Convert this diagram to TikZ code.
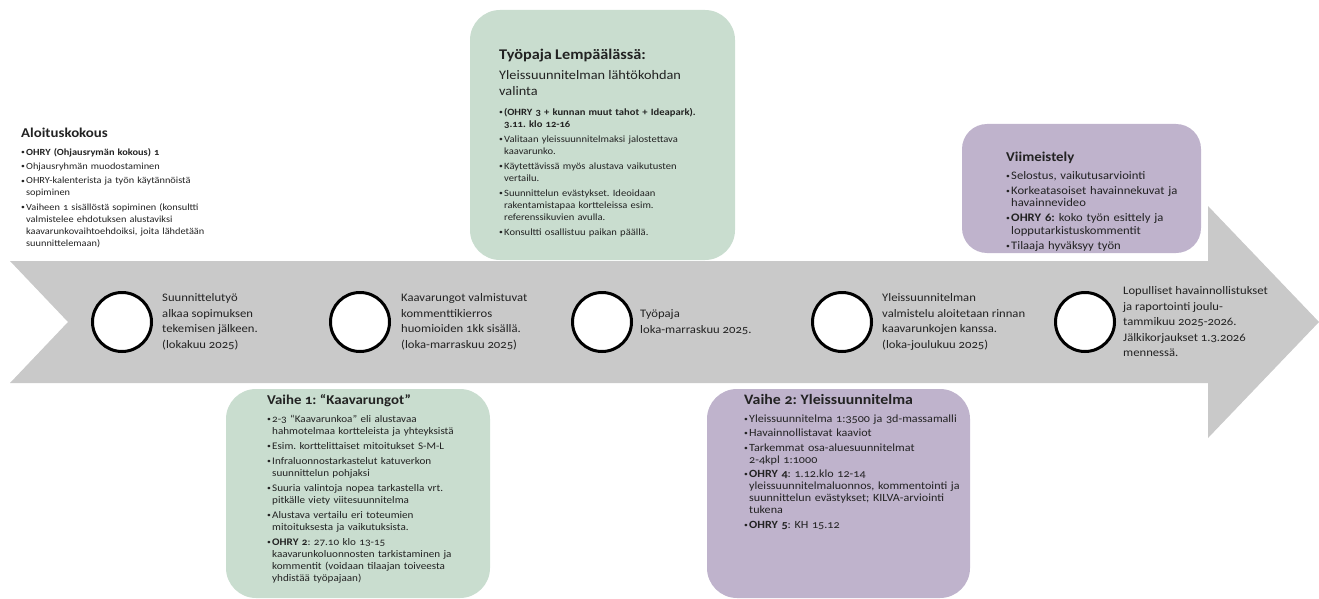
\documentclass[tikz,border=0pt]{standalone}
\usepackage{fontspec}
\setmainfont{Carlito}[FakeStretch=1.1,Numbers=OldStyle]
\usetikzlibrary{positioning}

\definecolor{arrowgray}{HTML}{C9C9C9}
\definecolor{phasegreen}{HTML}{C9DDCF}
\definecolor{phaselilac}{HTML}{BFB3CC}
\definecolor{inkgray}{HTML}{222222}

\frenchspacing
\newlength{\itmgap}
\setlength{\itmgap}{3pt}
\newcommand{\itm}{\par\vspace{\itmgap}\hangindent=5pt\hangafter=1\noindent\makebox[5pt][l]{\raisebox{0.6pt}{\scriptsize\textbullet}}}
\newcommand{\ttl}[2][13.5]{{\fontsize{#1}{14}\selectfont\bfseries #2}\par\vspace{3pt}}

\begin{document}
\begin{tikzpicture}[x=1pt,y=-1pt,
    boxtext/.style={anchor=base west, inner sep=0pt, text width=260pt, align=left,
                    font=\fontsize{10}{12}\selectfont, text=inkgray},
    stone/.style={shape=circle, draw=black, fill=white, line width=3pt,
                  minimum size=59pt, inner sep=0pt},
    stonetext/.style={anchor=west, inner sep=0pt, align=left,
                      font=\fontsize{11.5}{15.5}\selectfont, text=inkgray}]

    \useasboundingbox (0,0) rectangle (1319,599);

    % timeline arrow
    \fill[arrowgray] (10,261) -- (1208,261) -- (1208,206) -- (1319,322)
        -- (1208,438) -- (1208,383) -- (10,383) -- (68,322) -- cycle;

    % phase boxes
    \fill[phasegreen, rounded corners=30pt] (470,10) rectangle (735,260);
    \fill[phaselilac, rounded corners=25pt] (962,124) rectangle (1201,253);
    \fill[phasegreen, rounded corners=30pt] (226,389) rectangle (490,598);
    \fill[phaselilac, rounded corners=30pt] (707,389) rectangle (970,598);

    % milestones
    \node[stone] (M1) at (122,322) {};
    \node[stone] (M2) at (360,322) {};
    \node[stone] (M3) at (602,322) {};
    \node[stone] (M4) at (842,322) {};
    \node[stone] (M5) at (1085,322) {};

    \node[stonetext, right=9pt of M1] (T1) {Suunnittelutyö\\alkaa sopimuksen\\tekemisen jälkeen.\\(lokakuu 2025)};
    \node[stonetext, right=10pt of M2] (T2) {Kaavarungot valmistuvat\\kommenttikierros\\huomioiden 1kk sisällä.\\(loka-marraskuu 2025)};
    \node[stonetext, right=7pt of M3] (T3) {Työpaja\\loka-marraskuu 2025.};
    \node[stonetext, right=9pt of M4] (T4) {Yleissuunnitelman\\valmistelu aloitetaan rinnan\\kaavarunkojen kanssa.\\(loka-joulukuu 2025)};
    \node[stonetext, right=7pt of M5] (T5) {Lopulliset havainnollistukset\\ja raportointi joulu-\\tammikuu 2025-2026.\\Jälkikorjaukset 1.3.2026\\mennessä.};

    % texts above and below
    \node[boxtext, font=\fontsize{9.4}{12}\selectfont] (aloitus) at (21,137.5) {\setlength{\itmgap}{2.5pt}\ttl{Aloituskokous}
        \itm\textbf{OHRY (Ohjausrymän kokous) 1}
        \itm Ohjausryhmän muodostaminen
        \itm OHRY-kalenterista ja työn käytännöistä\newline sopiminen
        \itm Vaiheen 1 sisällöstä sopiminen (konsultti\newline valmistelee ehdotuksen alustaviksi\newline kaavarunkovaihtoehdoiksi, joita lähdetään\newline suunnittelemaan)\par};

    \node[boxtext, font=\fontsize{9.6}{12}\selectfont] (tyopaja) at (499,59.5) {{\fontsize{14.8}{16}\selectfont\bfseries Työpaja Lempäälässä:}\par\vspace{4.4pt}
        {\fontsize{13}{16}\selectfont Yleissuunnitelman lähtökohdan\newline valinta\par}\vspace{4.3pt}
        \itm\textbf{(OHRY 3 + kunnan muut tahot + Ideapark).\newline 3.11. klo 12-16}
        \itm Valitaan yleissuunnitelmaksi jalostettava\newline kaavarunko.
        \itm Käytettävissä myös alustava vaikutusten\newline vertailu.
        \itm Suunnittelun evästykset. Ideoidaan\newline rakentamistapaa kortteleissa esim.\newline referenssikuvien avulla.
        \itm Konsultti osallistuu paikan päällä.\par};

    \node[boxtext, font=\fontsize{11.5}{12.5}\selectfont] (viimeistely) at (1006,161) {\setlength{\itmgap}{2.5pt}\ttl{Viimeistely}
        \itm Selostus, vaikutusarviointi
        \itm Korkeatasoiset havainnekuvat ja\newline havainnevideo
        \itm\textbf{OHRY 6:} koko työn esittely ja\newline lopputarkistuskommentit
        \itm Tilaaja hyväksyy työn\par};

    \node[boxtext, font=\fontsize{10.1}{12}\selectfont] (vaihe1) at (267,404.5) {\ttl{Vaihe 1: “Kaavarungot”}
        \itm 2-3 “Kaavarunkoa” eli alustavaa\newline hahmotelmaa kortteleista ja yhteyksistä
        \itm Esim. korttelittaiset mitoitukset S-M-L
        \itm Infraluonnostarkastelut katuverkon\newline suunnittelun pohjaksi
        \itm Suuria valintoja nopea tarkastella vrt.\newline pitkälle viety viitesuunnitelma
        \itm Alustava vertailu eri toteumien\newline mitoituksesta ja vaikutuksista.
        \itm\textbf{OHRY 2}: 27.10 klo 13-15\newline kaavarunkoluonnosten tarkistaminen ja\newline kommentit (voidaan tilaajan toiveesta\newline yhdistää työpajaan)\par};

    \node[boxtext, font=\fontsize{11}{12}\selectfont] (vaihe2) at (744,404.5) {\setlength{\itmgap}{2.5pt}\ttl[14.4]{Vaihe 2: Yleissuunnitelma}
        \itm Yleissuunnitelma 1:3500 ja 3d-massamalli
        \itm Havainnollistavat kaaviot
        \itm Tarkemmat osa-aluesuunnitelmat\newline 2-4kpl 1:1000
        \itm\textbf{OHRY 4}: 1.12.klo 12-14\newline yleissuunnitelmaluonnos, kommentointi ja\newline suunnittelun evästykset; KILVA-arviointi\newline tukena
        \itm\textbf{OHRY 5}: KH 15.12\par};
\end{tikzpicture}
\end{document}
